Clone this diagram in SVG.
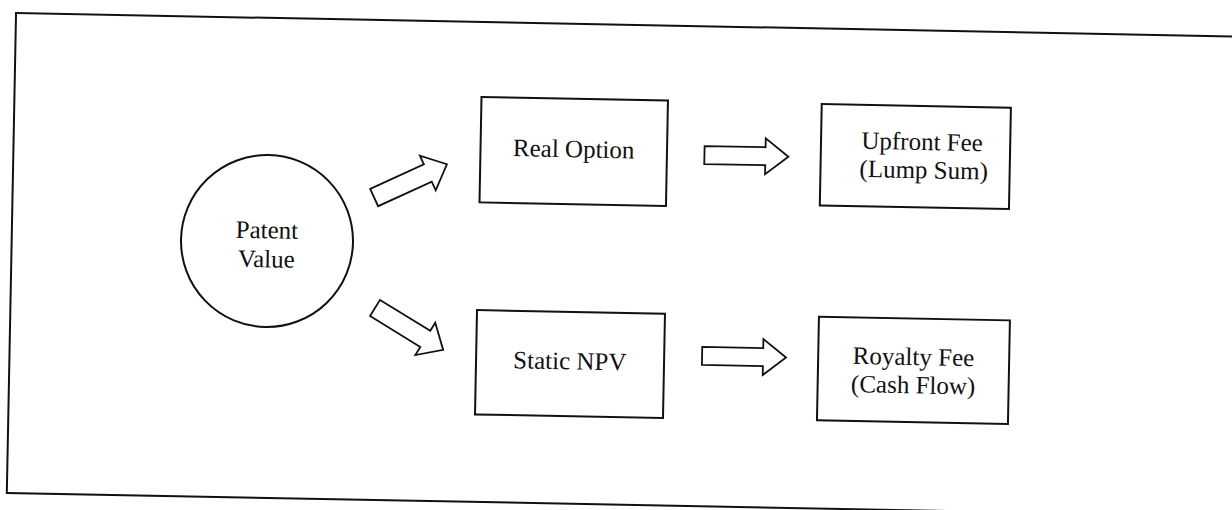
<svg xmlns="http://www.w3.org/2000/svg" width="1232" height="510" viewBox="0 0 1232 510">
  <style>
    .frame { fill: none; stroke: #111; stroke-width: 2; }
    .node { fill: #fff; stroke: #111; stroke-width: 2; }
    .arrow { fill: #fff; stroke: #111; stroke-width: 1.8; stroke-linejoin: miter; }
    .label { font-family: "Liberation Serif", "Times New Roman", serif; font-size: 25px; fill: #111; text-anchor: middle; }
  </style>
  <defs>
    <!-- block arrows, drawn pointing right from the tail at the origin -->
    <path id="arrow-h" d="M0,-9 H61 V-18 L84,0 L61,18 V9 H0 Z"/>
    <path id="arrow-d" d="M0,-9.5 H59 V-19 L80,0 L59,19 V9.5 H0 Z"/>
  </defs>
  <rect width="1232" height="510" fill="#fff"/>
  <!-- the sheet sits slightly tilted -->
  <g transform="rotate(1.1 616 255)">
    <rect class="frame" x="11.5" y="24.6" width="1260" height="480"/>

    <g id="connectors">
      <use href="#arrow-d" class="arrow" transform="translate(373.1 202.2) rotate(-25.7)"/>
      <use href="#arrow-d" class="arrow" transform="translate(376.1 312.6) rotate(30.5)"/>
      <use href="#arrow-h" class="arrow" transform="translate(702.5 153.4)"/>
      <use href="#arrow-h" class="arrow" transform="translate(704 354.2)"/>
    </g>

    <g id="patent-value">
      <circle class="node" cx="266.8" cy="247.7" r="86"/>
      <text class="label" x="266.5" y="245">Patent</text>
      <text class="label" x="266.5" y="274">Value</text>
    </g>

    <g id="real-option">
      <rect class="node" x="478.5" y="99.6" width="186.5" height="105.4"/>
      <text class="label" x="571.7" y="158.1">Real Option</text>
    </g>

    <g id="static-npv">
      <rect class="node" x="478.1" y="312.7" width="188" height="104.4"/>
      <text class="label" x="571.9" y="370.2">Static NPV</text>
    </g>

    <g id="upfront-fee">
      <rect class="node" x="818.8" y="100.1" width="189.2" height="101.4"/>
      <text class="label" x="919.9" y="144.1">Upfront Fee</text>
      <text class="label" x="922" y="172.3">(Lump Sum)</text>
    </g>

    <g id="royalty-fee">
      <rect class="node" x="820.1" y="312.8" width="191" height="103.6"/>
      <text class="label" x="915.4" y="359.3">Royalty Fee</text>
      <text class="label" x="915.6" y="387.6">(Cash Flow)</text>
    </g>
  </g>
</svg>
